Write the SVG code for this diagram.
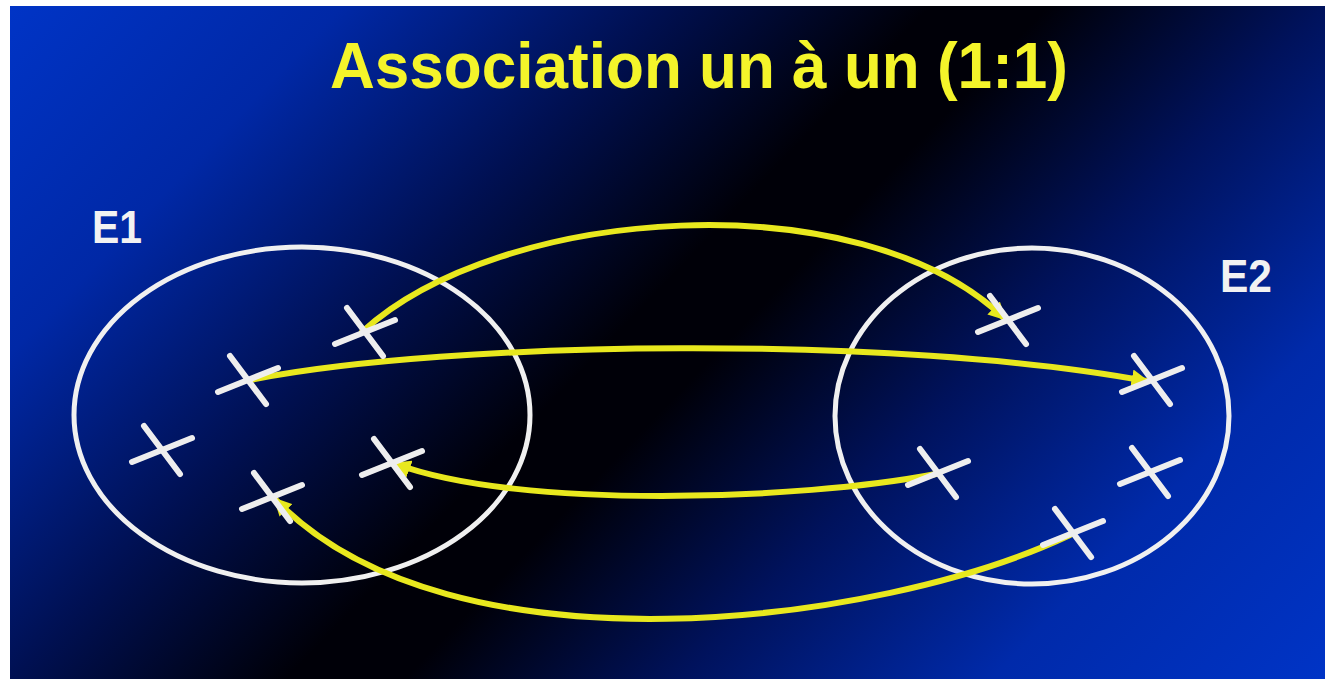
<svg xmlns="http://www.w3.org/2000/svg" width="1325" height="679" viewBox="0 0 1325 679">
<style>
.title{font-family:"Liberation Sans",Arial,sans-serif;font-weight:bold;fill:#f4f42a}
.lbl{font-family:"Liberation Sans",Arial,sans-serif;font-weight:bold;fill:#f2f2f2}
.set{fill:none;stroke:#f0f0f0;stroke-width:5}
.x{stroke:#eeeeee;stroke-width:6;stroke-linecap:round;fill:none}
.link{fill:none;stroke:#e8e81e;stroke-width:6;stroke-linecap:round}
</style>
<defs>
<linearGradient id="bg" gradientUnits="userSpaceOnUse" x1="10" y1="6" x2="1032" y2="985">
<stop offset="0" stop-color="#0034c6"/>
<stop offset="0.17" stop-color="#0028a6"/>
<stop offset="0.33" stop-color="#001052"/>
<stop offset="0.47" stop-color="#000008"/>
<stop offset="0.53" stop-color="#000008"/>
<stop offset="0.67" stop-color="#00125c"/>
<stop offset="0.83" stop-color="#002aaa"/>
<stop offset="1" stop-color="#0034c6"/>
</linearGradient>
<g id="cross" class="x">
<line x1="-30" y1="12" x2="30" y2="-12"/>
<line x1="-18" y1="-24" x2="18" y2="24"/>
</g>
<marker id="ah" viewBox="0 0 10 10" refX="8" refY="5" markerWidth="3" markerHeight="3" orient="auto" markerUnits="strokeWidth">
<path d="M0,0 L10,5 L0,10 z" fill="#e8e81e"/>
</marker>
</defs>
<rect x="0" y="0" width="1325" height="679" fill="#ffffff"/>
<rect x="10" y="6" width="1315" height="673" fill="url(#bg)"/>
<text class="title" x="330" y="88" font-size="64" textLength="738" lengthAdjust="spacingAndGlyphs">Association un à un (1:1)</text>

<g id="E1">
<ellipse class="set" cx="302" cy="415" rx="228" ry="168"/>
<text class="lbl" x="92" y="243" font-size="46" textLength="50" lengthAdjust="spacingAndGlyphs">E1</text>
</g>
<g id="E2">
<ellipse class="set" cx="1032" cy="416" rx="197" ry="168"/>
<text class="lbl" x="1220" y="292" font-size="46" textLength="52" lengthAdjust="spacingAndGlyphs">E2</text>
</g>

<g id="connectors">
<path class="link" marker-end="url(#ah)" d="M362,332 C500,205 860,180 1004,318"/>
<path class="link" marker-end="url(#ah)" d="M250,380 C450,340 900,335 1146,381"/>
<path class="link" marker-end="url(#ah)" d="M936,474 C800,500 520,510 396,464"/>
<path class="link" marker-end="url(#ah)" d="M1070,535 C880,625 450,680 276,500"/>
</g>

<g id="e1-elements">
<use id="a1" href="#cross" x="365" y="332"/>
<use id="a2" href="#cross" x="248" y="380"/>
<use id="a3" href="#cross" x="162" y="450"/>
<use id="a4" href="#cross" x="272" y="497"/>
<use id="a5" href="#cross" x="392" y="463"/>
</g>
<g id="e2-elements">
<use id="b1" href="#cross" x="1008" y="320"/>
<use id="b2" href="#cross" x="1152" y="380"/>
<use id="b3" href="#cross" x="938" y="473"/>
<use id="b4" href="#cross" x="1150" y="472"/>
<use id="b5" href="#cross" x="1073" y="533"/>
</g>
</svg>
